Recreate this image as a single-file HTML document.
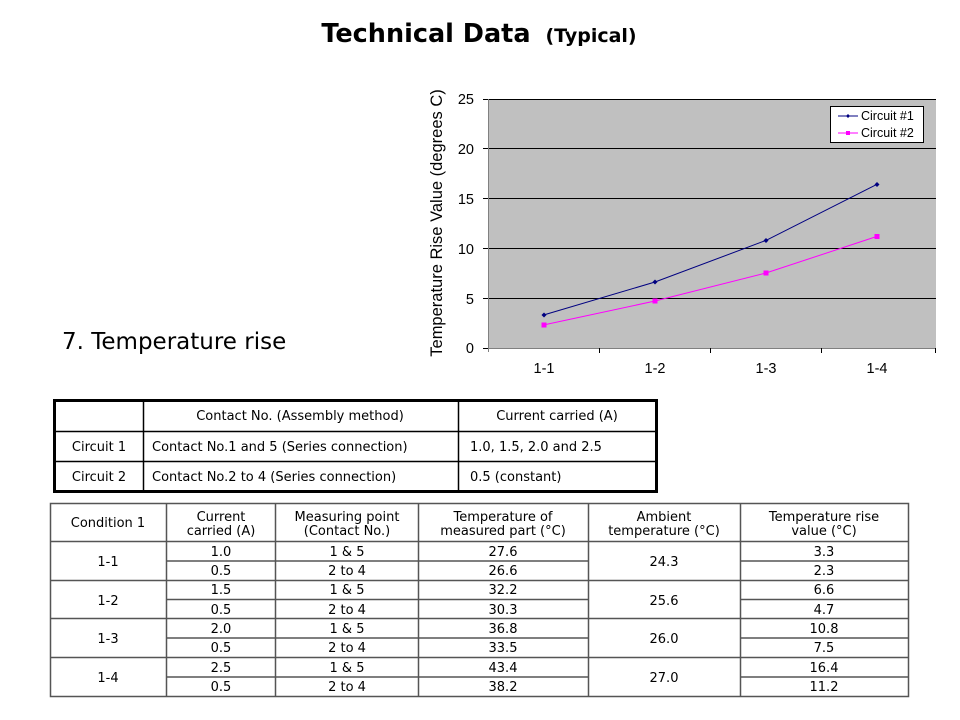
<!DOCTYPE html>
<html><head><meta charset="utf-8"><style>
body{margin:0;background:#fff;}
svg{display:block;font-family:"Liberation Sans","DejaVu Sans",sans-serif;}
.t{font-family:"DejaVu Sans","Liberation Sans",sans-serif;font-size:13px;fill:#000;}
</style></head><body>
<svg width="960" height="720" viewBox="0 0 960 720">
<text x="479" y="42" text-anchor="middle" font-size="25.5" font-weight="bold" font-family="DejaVu Sans, Liberation Sans, sans-serif">Technical Data <tspan font-size="19" dx="6">(Typical)</tspan></text>
<text x="62" y="349" font-size="23" font-family="DejaVu Sans, Liberation Sans, sans-serif">7. Temperature rise</text>
<!-- chart -->
<rect x="488" y="99" width="448" height="249" fill="#c0c0c0"/>
<g stroke="#000" stroke-width="1">
<line x1="488" y1="99.5" x2="936" y2="99.5"/><line x1="488" y1="148.5" x2="936" y2="148.5"/>
<line x1="488" y1="198.5" x2="936" y2="198.5"/><line x1="488" y1="248.5" x2="936" y2="248.5"/>
<line x1="488" y1="298.5" x2="936" y2="298.5"/>
<line x1="488" y1="348.5" x2="936" y2="348.5" stroke="#808080"/>
<line x1="488.5" y1="99" x2="488.5" y2="352" stroke="#808080"/>
<line x1="483" y1="99.5" x2="488" y2="99.5"/><line x1="483" y1="148.5" x2="488" y2="148.5"/><line x1="483" y1="198.5" x2="488" y2="198.5"/><line x1="483" y1="248.5" x2="488" y2="248.5"/><line x1="483" y1="298.5" x2="488" y2="298.5"/><line x1="483" y1="348.5" x2="488" y2="348.5"/>
<line x1="599.5" y1="348" x2="599.5" y2="353"/><line x1="710.5" y1="348" x2="710.5" y2="353"/><line x1="821.5" y1="348" x2="821.5" y2="353"/><line x1="935.5" y1="348" x2="935.5" y2="353"/>
</g>
<g font-size="14.5" text-anchor="end"><text x="474" y="104">25</text><text x="474" y="154">20</text><text x="474" y="204">15</text><text x="474" y="254">10</text><text x="474" y="304">5</text><text x="474" y="353">0</text></g>
<g font-size="14.5" text-anchor="middle"><text x="544" y="373">1-1</text><text x="655" y="373">1-2</text><text x="766" y="373">1-3</text><text x="877" y="373">1-4</text></g>
<text transform="translate(442,223) rotate(-90)" text-anchor="middle" font-size="16.5">Temperature Rise Value (degrees C)</text>
<polyline points="544,314.9 655,282 766,240.4 877,184.3" fill="none" stroke="#000080" stroke-width="1"/>
<polyline points="544,324.9 655,301 766,273 877,236.4" fill="none" stroke="#ff00ff" stroke-width="1"/>
<g fill="#000080"><path d="M544 312.5l2.5 2.5-2.5 2.5-2.5-2.5z"/><path d="M655 279.5l2.5 2.5-2.5 2.5-2.5-2.5z"/><path d="M766 238l2.5 2.5-2.5 2.5-2.5-2.5z"/><path d="M877 182l2.5 2.5-2.5 2.5-2.5-2.5z"/></g>
<g fill="#ff00ff"><rect x="541.5" y="322.5" width="5" height="5"/><rect x="652.5" y="298.5" width="5" height="5"/><rect x="763.5" y="270.5" width="5" height="5"/><rect x="874.5" y="234" width="5" height="5"/></g>
<rect x="830.5" y="106.5" width="93" height="36" fill="#fff" stroke="#000"/>
<line x1="838" y1="116" x2="858" y2="116" stroke="#000080"/><path d="M848 114l2 2-2 2-2-2z" fill="#000080"/>
<line x1="838" y1="133" x2="858" y2="133" stroke="#ff00ff"/><rect x="846" y="131" width="4" height="4" fill="#ff00ff"/>
<text x="861" y="120" font-size="12.5">Circuit #1</text><text x="861" y="137" font-size="12.5">Circuit #2</text>
<!-- table 1 -->
<g stroke="#000" fill="none">
<rect x="54.5" y="400.5" width="602" height="91" stroke-width="3"/>
<line x1="54" y1="431.5" x2="656" y2="431.5" stroke-width="1.5"/><line x1="54" y1="461.5" x2="656" y2="461.5" stroke-width="1.5"/>
<line x1="143.5" y1="400" x2="143.5" y2="492" stroke-width="1.5"/><line x1="458.5" y1="400" x2="458.5" y2="492" stroke-width="1.5"/>
</g>
<g class="t">
<text x="300" y="420" text-anchor="middle">Contact No. (Assembly method)</text>
<text x="557" y="420" text-anchor="middle">Current carried (A)</text>
<text x="99" y="451" text-anchor="middle">Circuit 1</text><text x="99" y="481" text-anchor="middle">Circuit 2</text>
<text x="152" y="451">Contact No.1 and 5 (Series connection)</text><text x="152" y="481">Contact No.2 to 4 (Series connection)</text>
<text x="470" y="451">1.0, 1.5, 2.0 and 2.5</text><text x="470" y="481">0.5 (constant)</text>
</g>
<!-- table 2 -->
<g stroke="#555" fill="none" stroke-width="1.5">
<rect x="50.5" y="503.5" width="858" height="193"/>
<line x1="50" y1="541.5" x2="908" y2="541.5"/>
<line x1="50" y1="580.5" x2="908" y2="580.5"/><line x1="50" y1="618.5" x2="908" y2="618.5"/><line x1="50" y1="657.5" x2="908" y2="657.5"/>
<line x1="166" y1="561" x2="588" y2="561"/><line x1="740" y1="561" x2="908" y2="561"/>
<line x1="166" y1="599.5" x2="588" y2="599.5"/><line x1="740" y1="599.5" x2="908" y2="599.5"/>
<line x1="166" y1="638" x2="588" y2="638"/><line x1="740" y1="638" x2="908" y2="638"/>
<line x1="166" y1="677" x2="588" y2="677"/><line x1="740" y1="677" x2="908" y2="677"/>
<line x1="166.5" y1="503" x2="166.5" y2="697"/><line x1="275.5" y1="503" x2="275.5" y2="697"/><line x1="418.5" y1="503" x2="418.5" y2="697"/><line x1="588.5" y1="503" x2="588.5" y2="697"/><line x1="740.5" y1="503" x2="740.5" y2="697"/>
</g>
<g class="t" text-anchor="middle">
<text x="108" y="527">Condition 1</text>
<text x="221" y="521">Current</text><text x="221" y="535">carried (A)</text>
<text x="347" y="521">Measuring point</text><text x="347" y="535">(Contact No.)</text>
<text x="503" y="521">Temperature of</text><text x="503" y="535">measured part (°C)</text>
<text x="664" y="521">Ambient</text><text x="664" y="535">temperature (°C)</text>
<text x="824" y="521">Temperature rise</text><text x="824" y="535">value (°C)</text>
<text x="108" y="566">1-1</text><text x="108" y="605">1-2</text><text x="108" y="643">1-3</text><text x="108" y="682">1-4</text>
<text x="664" y="566">24.3</text><text x="664" y="605">25.6</text><text x="664" y="643">26.0</text><text x="664" y="682">27.0</text>
<text x="221" y="556">1.0</text><text x="221" y="575">0.5</text><text x="221" y="594">1.5</text><text x="221" y="614">0.5</text><text x="221" y="633">2.0</text><text x="221" y="652">0.5</text><text x="221" y="672">2.5</text><text x="221" y="691">0.5</text>
<text x="347" y="556">1 &amp; 5</text><text x="347" y="575">2 to 4</text><text x="347" y="594">1 &amp; 5</text><text x="347" y="614">2 to 4</text><text x="347" y="633">1 &amp; 5</text><text x="347" y="652">2 to 4</text><text x="347" y="672">1 &amp; 5</text><text x="347" y="691">2 to 4</text>
<text x="503" y="556">27.6</text><text x="503" y="575">26.6</text><text x="503" y="594">32.2</text><text x="503" y="614">30.3</text><text x="503" y="633">36.8</text><text x="503" y="652">33.5</text><text x="503" y="672">43.4</text><text x="503" y="691">38.2</text>
<text x="824" y="556">3.3</text><text x="824" y="575">2.3</text><text x="824" y="594">6.6</text><text x="824" y="614">4.7</text><text x="824" y="633">10.8</text><text x="824" y="652">7.5</text><text x="824" y="672">16.4</text><text x="824" y="691">11.2</text>
</g>
</svg>
</body></html>
